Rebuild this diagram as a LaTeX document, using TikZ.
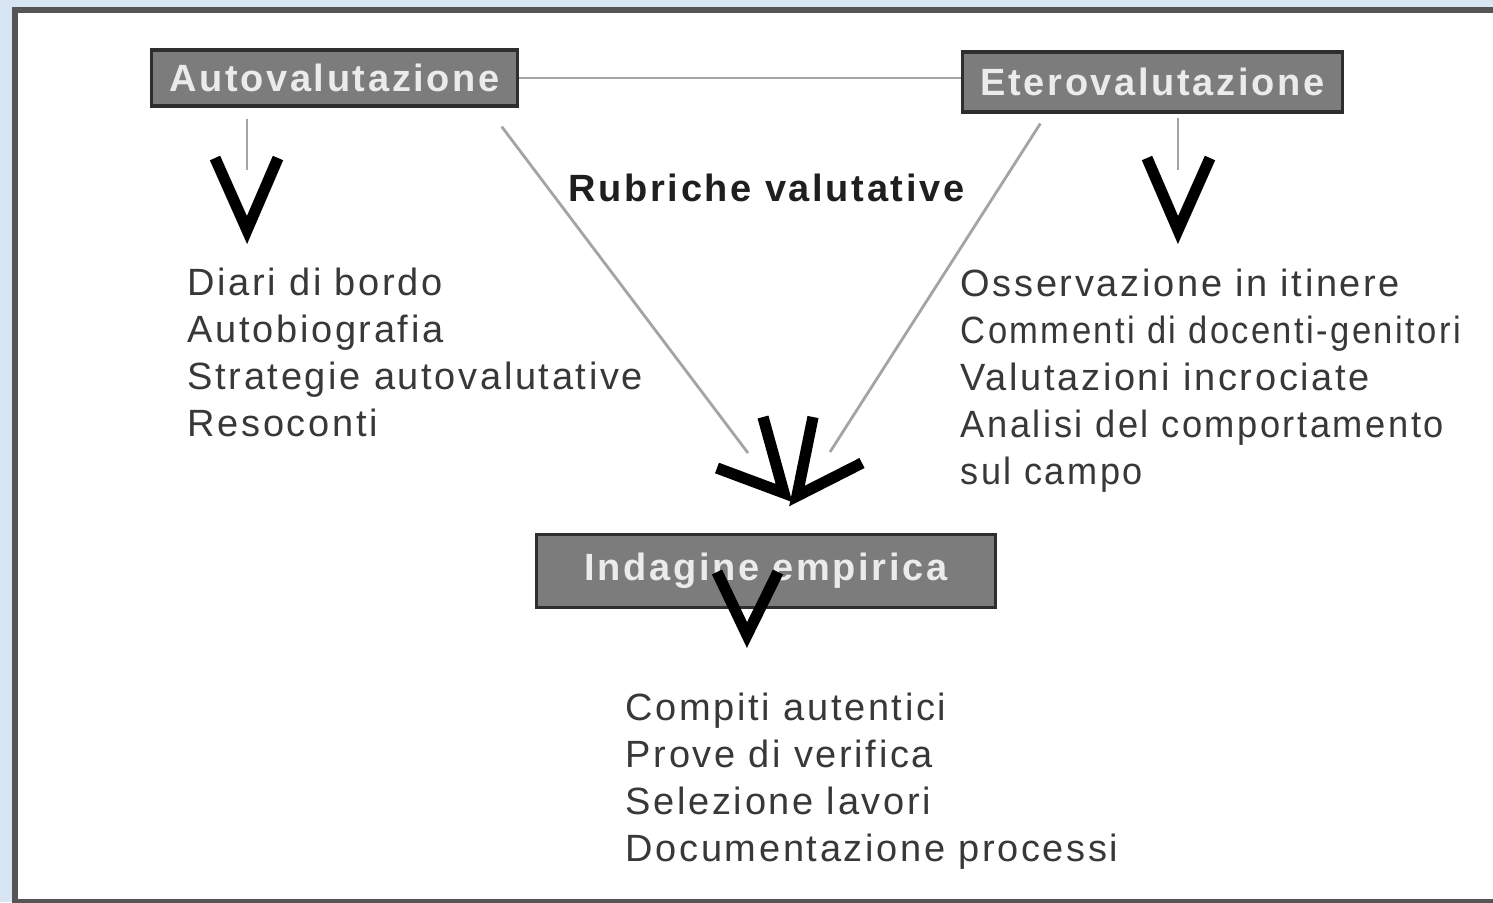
\documentclass[tikz,border=0pt]{standalone}
\usepackage{fontspec}
\setmainfont{Liberation Sans}
\newfontfamily\valfont[LetterSpace=7]{Liberation Sans}
\usetikzlibrary{calc}

\definecolor{boxgray}{HTML}{7C7C7C}
\definecolor{edgegray}{HTML}{2E2E2E}
\definecolor{linegray}{HTML}{A4A4A4}
\definecolor{textgray}{HTML}{383838}
\definecolor{skyblue}{HTML}{D8E6F3}
\definecolor{framegray}{HTML}{555555}

\tikzset{
    valbox/.style={draw=edgegray, line width=0.9pt, fill=boxgray, text=white!92!black,
        font=\valfont\bfseries\fontsize{10.8}{13}\selectfont, inner sep=0pt},
    item/.style={anchor=base west, inner sep=0pt, text=textgray,
        font=\valfont\fontsize{10.8}{13}\selectfont},
    link/.style={draw=linegray, line width=0.8pt},
    vhead/.style={line width=3.2pt, miter limit=10},
}

\begin{document}
\begin{tikzpicture}[x=0.01cm, y=-0.01cm]
        \fill[skyblue] (0,0) rectangle (1493,902);
        \useasboundingbox (0,0) rectangle (1493,902);
        \draw[framegray, line width=1.8pt, fill=white] (15,10) rectangle (1502,902);

        % the three boxes
        \node[valbox, minimum width=3.65cm, minimum height=0.56cm] (auto) at (334.5,78) {Autovalutazione};
        \node[valbox, minimum width=3.79cm, minimum height=0.60cm] (etero) at (1152.5,82) {Eterovalutazione};
        \node[valbox, minimum width=4.58cm, minimum height=0.73cm] (indagine) at (766,571) {Indagine empirica};

        \node[item, text=black!88, font=\valfont\bfseries\fontsize{10.8}{13}\selectfont] (rubriche) at (568,201) {Rubriche valutative};

        % lists
        \foreach \t [count=\i] in {Diari di bordo, Autobiografia, Strategie autovalutative, Resoconti}
            \node[item] (autoitem\i) at (187, 295+47*\i-47) {\t};
        \foreach \t/\s [count=\i] in {Osservazione in itinere/1, Commenti di docenti-genitori/0.91,
                Valutazioni incrociate/1, Analisi del comportamento/0.955, sul campo/0.95}
            \node[item, xscale=\s] (eteroitem\i) at (960, 296+47*\i-47) {\t};
        \foreach \t [count=\i] in {Compiti autentici, Prove di verifica, Selezione lavori, Documentazione processi}
            \node[item] (indagineitem\i) at (625, 720+47*\i-47) {\t};

        % connectors
        \coordinate (autotip) at (247,230);
        \coordinate (eterotip) at (1178,230);
        \coordinate (ltip) at (784,493);
        \coordinate (rtip) at (797,496);
        \coordinate (indtip) at (747,635);

        \draw[link] (auto.east) -- (auto.east -| etero.west);
        \draw[link] ($(auto.south -| autotip)+(0,11)$) -- ($(autotip)+(0,-60)$);
        \draw[link] ($(etero.south -| eterotip)+(0,4)$) -- ($(eterotip)+(0,-60)$);
        \draw[link] ($(auto.south east)+(-17,19)$) -- ($(ltip)+(-36,-40)$);
        \draw[link] ($(etero.south west)+(79,10)$) -- ($(rtip)+(33,-44)$);

        \draw[vhead] (215,158) -- (autotip) -- (278,158);
        \draw[vhead] (1147,158) -- (eterotip) -- (1210,158);
        \draw[vhead] (763,417) -- (ltip) -- (717,468);
        \draw[vhead] (813,417) -- (rtip) -- (862,463);
        \draw[vhead] (717,572) -- (indtip) -- (778,572);
\end{tikzpicture}
\end{document}
